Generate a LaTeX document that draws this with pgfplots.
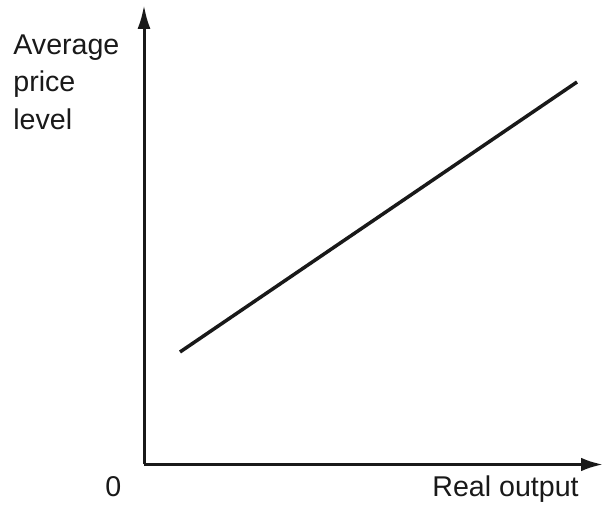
\documentclass[border=0pt]{standalone}
\usepackage{pgfplots}
\pgfplotsset{compat=1.18}
\usepackage{fontspec}
\setmainfont{Liberation Sans}
\usetikzlibrary{arrows.meta}
\newcommand{\lf}{\fontsize{14.3pt}{17pt}\selectfont}
\begin{document}
\begin{tikzpicture}
\path[use as bounding box] (0,0) rectangle (301.5pt,258.5pt);
\begin{axis}[
  at={(72pt,26.25pt)}, anchor=origin,
  scale only axis, width=229.5pt, height=229.75pt,
  xmin=0, xmax=459, ymin=0, ymax=459.5,
  axis lines=left,
  axis line style={line width=1.5pt, black!90},
  x axis line style={-{Latex[length=11pt,width=6.8pt]}},
  y axis line style={-{Latex[length=12pt,width=6.5pt]}},
  xtick=\empty, ytick=\empty,
  clip=false,
]
\addplot[line width=1.75pt, black!90] coordinates {(36,112.5) (433,382.5)};
\node[anchor=base west, inner sep=0pt, font=\lf, text=black!90] at (axis cs:-131,409.5) {Average};
\node[anchor=base west, inner sep=0pt, font=\lf, text=black!90] at (axis cs:-131,372.5) {price};
\node[anchor=base west, inner sep=0pt, font=\lf, text=black!90] at (axis cs:-131,334.5) {level};
\node[anchor=base west, inner sep=0pt, font=\lf, text=black!90] at (axis cs:-39,-32.5) {0};
\node[anchor=base west, inner sep=0pt, font=\lf, text=black!90] at (axis cs:288,-32.5) {Real output};
\end{axis}
\end{tikzpicture}
\end{document}
